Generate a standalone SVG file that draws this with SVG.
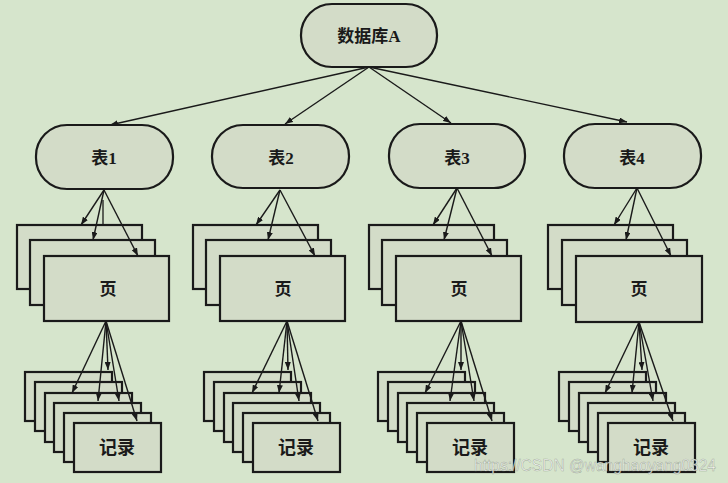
<svg xmlns="http://www.w3.org/2000/svg" width="728" height="483" viewBox="0 0 728 483">
  <defs>
    <marker id="ah" viewBox="0 0 8 6" markerWidth="8" markerHeight="6" refX="8" refY="3" orient="auto" markerUnits="userSpaceOnUse">
      <path d="M0,0 L8,3 L0,6 z" fill="#1a1a1a"/>
    </marker>
    <style>
      .node { fill: #d3dcc8; stroke: #1a1a1a; stroke-width: 2.2; }
      .lbl { font-family: "Liberation Serif", "Noto Sans CJK SC", serif; font-weight: bold; fill: #1a1a1a; text-anchor: middle; dominant-baseline: central; }
      .conn line { stroke: #1a1a1a; stroke-width: 1.4; marker-end: url(#ah); }
      .wm { font-family: "Liberation Sans", "Noto Sans CJK SC", sans-serif; font-size: 16px; fill: #f6f6f6; fill-opacity: 0.85; stroke: #6f7f6a; stroke-width: 0.5; stroke-opacity: 0.6; }
    </style>
  </defs>
  <rect width="728" height="483" fill="#d6e5cc"/>

  <g id="dbA">
    <rect class="node" x="301" y="4" width="136" height="63" rx="31" ry="31"/>
    <text class="lbl" x="369" y="36" font-size="17">数据库A</text>
  </g>

  <g id="table1">
    <rect class="node" x="36" y="125" width="137" height="64" rx="31" ry="31"/>
    <text class="lbl" x="104" y="158" font-size="17">表1</text>
  </g>
  <g id="table2">
    <rect class="node" x="212" y="125" width="137" height="63" rx="31" ry="31"/>
    <text class="lbl" x="281" y="158" font-size="17">表2</text>
  </g>
  <g id="table3">
    <rect class="node" x="389" y="124" width="136" height="64" rx="31" ry="31"/>
    <text class="lbl" x="457" y="158" font-size="17">表3</text>
  </g>
  <g id="table4">
    <rect class="node" x="564" y="124" width="137" height="64" rx="31" ry="31"/>
    <text class="lbl" x="632" y="158" font-size="17">表4</text>
  </g>

  <g id="pages1">
    <rect class="node" x="17" y="225" width="125" height="64"/>
    <rect class="node" x="30" y="240" width="125" height="65"/>
    <rect class="node" x="44" y="256" width="125" height="65"/>
    <text class="lbl" x="108" y="289" font-size="17">页</text>
  </g>
  <g id="pages2">
    <rect class="node" x="193" y="225" width="125" height="64"/>
    <rect class="node" x="206" y="240" width="125" height="65"/>
    <rect class="node" x="220" y="256" width="125" height="65"/>
    <text class="lbl" x="283" y="289" font-size="17">页</text>
  </g>
  <g id="pages3">
    <rect class="node" x="369" y="225" width="125" height="64"/>
    <rect class="node" x="382" y="240" width="125" height="65"/>
    <rect class="node" x="396" y="256" width="125" height="65"/>
    <text class="lbl" x="459" y="289" font-size="17">页</text>
  </g>
  <g id="pages4">
    <rect class="node" x="548" y="225" width="125" height="64"/>
    <rect class="node" x="562" y="240" width="125" height="65"/>
    <rect class="node" x="576" y="256" width="126" height="66"/>
    <text class="lbl" x="639" y="289" font-size="17">页</text>
  </g>

  <g id="records1">
    <rect class="node" x="25" y="372" width="87" height="49"/>
    <rect class="node" x="35" y="382" width="87" height="49"/>
    <rect class="node" x="45" y="393" width="87" height="49"/>
    <rect class="node" x="54" y="403" width="87" height="49"/>
    <rect class="node" x="64" y="413" width="87" height="49"/>
    <rect class="node" x="74" y="423" width="87" height="49"/>
    <text class="lbl" x="117" y="448" font-size="18">记录</text>
  </g>
  <g id="records2">
    <rect class="node" x="204" y="372" width="87" height="49"/>
    <rect class="node" x="214" y="382" width="87" height="49"/>
    <rect class="node" x="224" y="393" width="87" height="49"/>
    <rect class="node" x="233" y="403" width="87" height="49"/>
    <rect class="node" x="243" y="413" width="87" height="49"/>
    <rect class="node" x="253" y="423" width="87" height="49"/>
    <text class="lbl" x="296" y="448" font-size="18">记录</text>
  </g>
  <g id="records3">
    <rect class="node" x="378" y="372" width="87" height="49"/>
    <rect class="node" x="388" y="382" width="87" height="49"/>
    <rect class="node" x="398" y="393" width="87" height="49"/>
    <rect class="node" x="407" y="403" width="87" height="49"/>
    <rect class="node" x="417" y="413" width="87" height="49"/>
    <rect class="node" x="427" y="423" width="87" height="49"/>
    <text class="lbl" x="470" y="448" font-size="18">记录</text>
  </g>
  <g id="records4">
    <rect class="node" x="559" y="372" width="87" height="49"/>
    <rect class="node" x="569" y="382" width="87" height="49"/>
    <rect class="node" x="579" y="393" width="87" height="49"/>
    <rect class="node" x="588" y="403" width="87" height="49"/>
    <rect class="node" x="598" y="413" width="87" height="49"/>
    <rect class="node" x="608" y="423" width="87" height="49"/>
    <text class="lbl" x="651" y="448" font-size="18">记录</text>
  </g>

  <g id="connectors" class="conn">
    <line x1="369" y1="67" x2="110" y2="125"/>
    <line x1="369" y1="67" x2="285" y2="124"/>
    <line x1="369" y1="67" x2="451" y2="123"/>
    <line x1="369" y1="67" x2="627" y2="122"/>

    <line x1="104" y1="190" x2="81" y2="225"/>
    <line x1="104" y1="190" x2="93" y2="240"/>
    <line x1="104" y1="190" x2="138" y2="256"/>
    <path d="M103,200 L103,225" stroke="#1a1a1a" stroke-width="1.3" fill="none"/>

    <line x1="280" y1="190" x2="256" y2="225"/>
    <line x1="280" y1="190" x2="268" y2="240"/>
    <line x1="280" y1="190" x2="315" y2="256"/>

    <line x1="457" y1="188" x2="433" y2="225"/>
    <line x1="457" y1="188" x2="444" y2="240"/>
    <line x1="457" y1="188" x2="492" y2="256"/>

    <line x1="637" y1="188" x2="614" y2="225"/>
    <line x1="637" y1="188" x2="626" y2="240"/>
    <line x1="637" y1="188" x2="671" y2="256"/>

    <line x1="106" y1="321" x2="72" y2="393"/>
    <line x1="106" y1="321" x2="98" y2="401"/>
    <line x1="106" y1="321" x2="108" y2="370"/>
    <line x1="106" y1="321" x2="119" y2="401"/>
    <line x1="106" y1="321" x2="137" y2="421"/>

    <line x1="287" y1="321" x2="252" y2="393"/>
    <line x1="287" y1="321" x2="279" y2="393"/>
    <line x1="287" y1="321" x2="288" y2="370"/>
    <line x1="287" y1="321" x2="299" y2="401"/>
    <line x1="287" y1="321" x2="318" y2="421"/>

    <line x1="461" y1="321" x2="425" y2="393"/>
    <line x1="461" y1="321" x2="450" y2="401"/>
    <line x1="461" y1="321" x2="461" y2="370"/>
    <line x1="461" y1="321" x2="474" y2="401"/>
    <line x1="461" y1="321" x2="492" y2="421"/>

    <line x1="639" y1="322" x2="605" y2="393"/>
    <line x1="639" y1="322" x2="632" y2="393"/>
    <line x1="639" y1="322" x2="642" y2="370"/>
    <line x1="639" y1="322" x2="653" y2="401"/>
    <line x1="639" y1="322" x2="673" y2="421"/>
  </g>

  <text class="wm" x="474" y="471" textLength="242" lengthAdjust="spacingAndGlyphs">https://CSDN @wanghaoyang0324</text>
</svg>
